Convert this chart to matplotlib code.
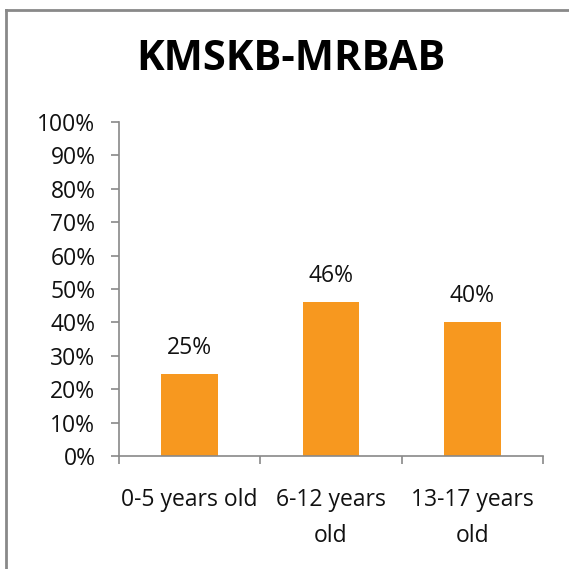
import matplotlib
matplotlib.use("Agg")
import matplotlib.pyplot as plt
from matplotlib.lines import Line2D

categories = ["0-5 years old", "6-12 years\nold", "13-17 years\nold"]
values = [0.2455, 0.461, 0.402]
labels = ["25%", "46%", "40%"]
yticks = [i / 10 for i in range(11)]
yticklabels = [f"{i*10}%" for i in range(11)]
title = "KMSKB-MRBAB"

plt.rcParams['font.family'] = ['Open Sans', 'DejaVu Sans']

W = H = 569
FS = 16.5
fig = plt.figure(figsize=(W / 100, H / 100), dpi=100)
ax = fig.add_axes([119 / W, 1 - 456 / H, (543 - 119) / W, (456 - 122) / H])

x = list(range(len(categories)))
ax.bar(x, values, width=0.4, color="#F7981F", edgecolor="none")
for xi, v, lab in zip(x, values, labels):
    ax.annotate(lab, (xi, v), xytext=(0, 10), textcoords="offset points",
                ha="center", va="bottom", fontsize=FS, color="#111111")

ax.set_xlim(-0.5, len(categories) - 0.5)
ax.set_ylim(0, 1)
ax.set_yticks(yticks)
ax.set_yticklabels(yticklabels, fontsize=FS, color="#111111")
ax.set_xticks(x)
ax.set_xticklabels(categories, fontsize=FS, color="#111111", linespacing=1.65)
ax.tick_params(axis="x", length=0, pad=23)
ax.set_xticks([-0.5, 0.5, 1.5, 2.5], minor=True)
ax.tick_params(axis="x", which="minor", length=6, color="#898989", width=1.2)
ax.tick_params(axis="y", length=6, color="#898989", width=1.2, pad=11)
for s in ["top", "right"]:
    ax.spines[s].set_visible(False)
for s in ["left", "bottom"]:
    ax.spines[s].set_color("#898989")
    ax.spines[s].set_linewidth(1.2)

fig.text(291 / W, 1 - 60 / H, title, fontsize=30, fontweight="bold",
         ha="center", va="center", color="#000000")

# figure border (left and top visible)
fig.add_artist(Line2D([5.5 / W, 5.5 / W], [0, 1 - 9.5 / H], transform=fig.transFigure,
                      color="#898989", linewidth=2))
fig.add_artist(Line2D([5.5 / W, 1], [1 - 9.5 / H, 1 - 9.5 / H], transform=fig.transFigure,
                      color="#898989", linewidth=2))

fig.savefig("out.png", dpi=100)
